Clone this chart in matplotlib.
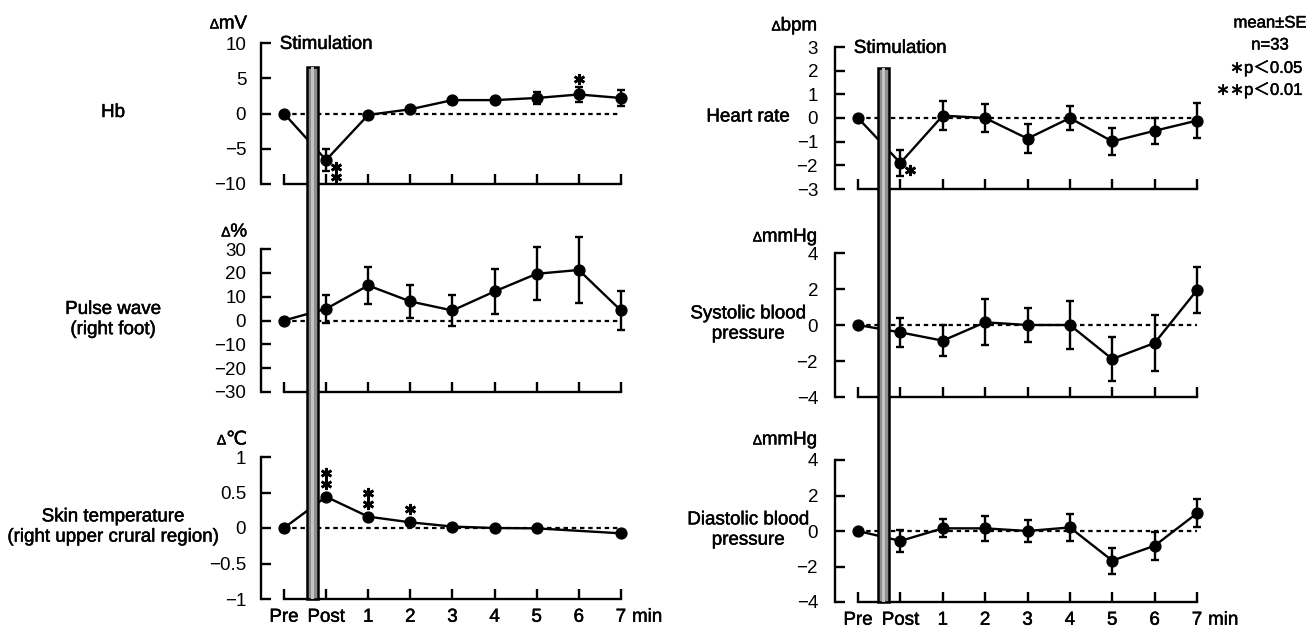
import matplotlib
matplotlib.use('Agg')
import numpy as np
import matplotlib.pyplot as plt
import matplotlib.transforms as mtransforms
import matplotlib.patheffects as pe
from matplotlib.patches import Rectangle
from matplotlib.ticker import FuncFormatter
from matplotlib.offsetbox import TextArea, HPacker, AnnotationBbox

plt.rcParams['font.family'] = ['Liberation Sans', 'DejaVu Sans', 'Noto Sans CJK JP']

W, H = 1306, 628

times = ['Pre', 'Post', '1', '2', '3', '4', '5', '6', '7']

hb_mean = [0, -6.6, -0.2, 0.6, 1.9, 1.9, 2.2, 2.7, 2.2]
hb_se = [0, 1.5, 0.3, 0.3, 0.3, 0.3, 0.9, 1.1, 1.15]
pulse_mean = [0, 4.9, 14.7, 8.0, 4.2, 12.2, 19.6, 21.2, 4.2]
pulse_se = [0, 6.0, 7.7, 7.0, 6.3, 9.6, 11.2, 13.9, 8.1]
skin_mean = [0, 0.44, 0.16, 0.08, 0.02, 0.0, -0.005, np.nan, -0.075]
skin_se = [0, 0.02, 0.02, 0.02, 0.01, 0.01, 0.01, np.nan, 0.01]
hr_mean = [0, -1.9, 0.1, 0.0, -0.87, 0.0, -0.99, -0.54, -0.11]
hr_se = [0, 0.55, 0.6, 0.6, 0.6, 0.52, 0.58, 0.54, 0.74]
sbp_mean = [0, -0.41, -0.87, 0.15, 0.0, 0.0, -1.89, -1.0, 1.94]
sbp_se = [0, 0.8, 0.87, 1.27, 0.95, 1.33, 1.23, 1.55, 1.3]
dbp_mean = [0, -0.56, 0.15, 0.15, 0.0, 0.2, -1.67, -0.83, 1.0]
dbp_se = [0, 0.63, 0.5, 0.7, 0.64, 0.74, 0.73, 0.78, 0.8]

# (time, stars, where)
hb_sig = [('Post', 2, 'right'), ('6', 1, 'above')]
skin_sig = [('Post', 2, 'above'), ('1', 2, 'above'), ('2', 1, 'above')]
hr_sig = [('Post', 1, 'right')]

legend_lines = ['mean\u00b1SE', 'n=33', '\u2217p\uff1c0.05', '\u2217\u2217p\uff1c0.01']

panels = [
    # name, unit, mean, se, ticks, sig, side, row
    ('Hb', 'mV', hb_mean, hb_se, [-10, -5, 0, 5, 10], hb_sig, 0, 0),
    ('Pulse wave\n(right foot)', '%', pulse_mean, pulse_se,
     [-30, -20, -10, 0, 10, 20, 30], [], 0, 1),
    ('Skin temperature\n(right upper crural region)', '\u2103', skin_mean, skin_se,
     [-1, -0.5, 0, 0.5, 1], skin_sig, 0, 2),
    ('Heart rate', 'bpm', hr_mean, hr_se, [-3, -2, -1, 0, 1, 2, 3], hr_sig, 1, 0),
    ('Systolic blood\npressure', 'mmHg', sbp_mean, sbp_se, [-4, -2, 0, 2, 4], [], 1, 1),
    ('Diastolic blood\npressure', 'mmHg', dbp_mean, dbp_se, [-4, -2, 0, 2, 4], [], 1, 2),
]

# pixel layout
col_x0 = [260.8, 834.7]
col_w = [363.5, 365.7]
row_y = [[(43, 184), (249, 392), (457, 599)], [(47, 189), (253, 397), (460, 602)]]
label_x = [113, 748]
unit_xr = [247, 817]
unit_y = [[24, 232, 440], [26, 237, 440]]
ypad = [10.5, 12]
stim_x = [(0.54, 0.80), (0.47, 0.73)]
stim_top = [6.6, 2.1]


def fx(x):
    return x / W


def fy(y):
    return 1 - y / H


fig = plt.figure(figsize=(W / 100, H / 100), dpi=100)
fs = 13.5
xpos = np.arange(len(times))
fmt = FuncFormatter(lambda v, p: ('%g' % v).replace('-', '\u2212'))
thick = [pe.withStroke(linewidth=0.35, foreground='black')]

axes = {}
for name, unit, mean, se, ticks, sig, side, row in panels:
    top, bot = row_y[side][row]
    ax = fig.add_axes([fx(col_x0[side]), fy(bot), col_w[side] / W, (bot - top) / H])
    axes[(side, row)] = ax
    ax.set_xlim(-0.55, 8.08)
    ax.set_ylim(ticks[0], ticks[-1])
    for s in ['top', 'right']:
        ax.spines[s].set_visible(False)
    ax.spines['left'].set_linewidth(1.7)
    ax.spines['bottom'].set_linewidth(1.7)
    ax.spines['bottom'].set_bounds(xpos[0], xpos[-1])
    ax.set_yticks(ticks)
    ax.yaxis.set_major_formatter(fmt)
    ax.set_xticks(xpos)
    ax.tick_params(direction='in', length=7, width=1.7, labelsize=fs)
    ax.tick_params(axis='y', pad=ypad[side])
    ax.tick_params(axis='x', pad=7)
    if row == 2:
        ax.set_xticklabels(times)
        ax.annotate('min', xy=(xpos[-1], 0), xycoords=('data', 'axes fraction'),
                    xytext=(8, -7), textcoords='offset points', ha='left', va='top',
                    fontsize=fs)
    else:
        ax.set_xticklabels([])

    m = np.array(mean, dtype=float)
    e = np.array(se, dtype=float)
    ok = ~np.isnan(m)
    ax.hlines(0, xpos[0], xpos[-1], colors='black', lw=1.6, linestyles=(0, (2.0, 1.7)),
              zorder=1)
    ax.errorbar(xpos[ok], m[ok], yerr=e[ok], fmt='none', ecolor='black', elinewidth=1.7,
                capsize=2.6, capthick=1.7, zorder=2, clip_on=False)
    ax.plot(xpos[ok], m[ok], '-', color='black', lw=1.7, zorder=3, clip_on=False)
    ax.plot(xpos[ok], m[ok], 'o', color='black', ms=7.8, zorder=4, clip_on=False)

    # significance marks
    ppu = ax.transData.transform((0, 1))[1] - ax.transData.transform((0, 0))[1]
    for t, n, where in sig:
        i = times.index(t)
        for k in range(n):
            if where == 'right':
                dx, dy = 10, -7 - 10 * k
            else:
                dx, dy = 0, max(13, e[i] * ppu + 8) + 11 * k
            tr = mtransforms.offset_copy(ax.transData, fig=fig, x=dx, y=dy, units='dots')
            ax.plot([xpos[i]], [m[i]], marker=(6, 2, 0), ms=8, mew=1.9, color='black',
                    transform=tr, clip_on=False, zorder=5)

    # row label
    ymid = (row_y[side][row][0] + row_y[side][row][1]) / 2 - 1
    fig.text(fx(label_x[side]), fy(ymid), name, ha='center', va='center', fontsize=fs,
             linespacing=1.25)

    # unit label with small delta
    box = HPacker(children=[TextArea('\u0394', textprops=dict(fontsize=10, path_effects=thick)),
                            TextArea(unit, textprops=dict(fontsize=fs, path_effects=thick))],
                  pad=0, sep=0, align='baseline')
    ab = AnnotationBbox(box, (fx(unit_xr[side]), fy(unit_y[side][row])),
                        xycoords='figure fraction', box_alignment=(1, 0.5), frameon=False)
    fig.add_artist(ab)

# stimulation bars and labels
inv = fig.transFigure.inverted()
for side in [0, 1]:
    at = axes[(side, 0)]
    ab_ = axes[(side, 2)]
    x0, x1 = stim_x[side]
    p0 = inv.transform(at.transData.transform((x0, stim_top[side])))
    p1 = inv.transform(ab_.transData.transform((x1, ab_.get_ylim()[0])))
    fig.patches.append(Rectangle((p0[0], p1[1]), p1[0] - p0[0], p0[1] - p1[1],
                                 transform=fig.transFigure, facecolor='#8e8e8e',
                                 edgecolor='black', lw=1.8, zorder=5))
    wd = p1[0] - p0[0]
    fig.patches.append(Rectangle((p0[0] + wd * 0.38, p1[1]), wd * 0.24, p0[1] - p1[1],
                                 transform=fig.transFigure, facecolor='#c4c4c4',
                                 edgecolor='none', zorder=6))
    ytop = at.get_ylim()[1]
    at.annotate('Stimulation', xy=(xpos[0], ytop), xycoords='data', xytext=(-3, -1),
                textcoords='offset points', ha='left', va='center', fontsize=fs)

# legend text
leg_pos = [(1270, 23, 'center'), (1270, 45, 'center'), (1302, 68, 'right'), (1302, 90, 'right')]
for txt, (lx, ly, ha) in zip(legend_lines, leg_pos):
    fig.text(fx(lx), fy(ly), txt, ha=ha, va='center', fontsize=12)

for t in fig.findobj(matplotlib.text.Text):
    if t.get_text():
        t.set_path_effects(thick)

fig.savefig('out.png', dpi=100)
